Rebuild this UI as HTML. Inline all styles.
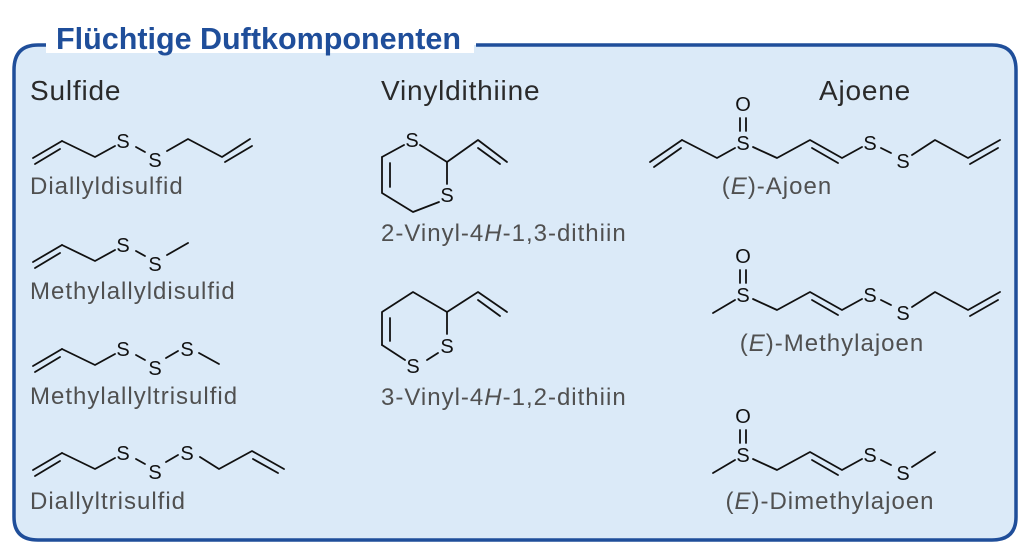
<!DOCTYPE html>
<html><head><meta charset="utf-8"><style>
html,body{margin:0;padding:0;background:#fff;}
svg{display:block;}
text{font-family:"Liberation Sans",sans-serif;}
.a{font-size:20px;fill:#111;text-anchor:middle;}
.h{font-size:28px;fill:#2a2a2a;letter-spacing:0.8px;}
.l{font-size:24px;fill:#505050;letter-spacing:1px;}
line,polyline{stroke:#111;stroke-width:1.8;fill:none;stroke-linecap:round;stroke-linejoin:round;}
</style></head><body>
<svg width="1024" height="555" viewBox="0 0 1024 555" xmlns="http://www.w3.org/2000/svg">
<path d="M46,45 L38,45 Q14,45 14,70 L14,517 Q14,540 38,540 L992,540 Q1016,540 1016,517 L1016,70 Q1016,45 992,45 L476,45 L46,45 Z" fill="#dbeaf8" stroke="none"/>
<rect x="46" y="43" width="428" height="10" fill="#fff"/>
<path d="M46,45 L38,45 Q14,45 14,70 L14,517 Q14,540 38,540 L992,540 Q1016,540 1016,517 L1016,70 Q1016,45 992,45 L476,45" fill="none" stroke="#1f4e9a" stroke-width="3.5"/>
<text x="56" y="49" style="font-size:30.5px;font-weight:bold;fill:#1f4e9a;">Flüchtige Duftkomponenten</text>

<text class="h" x="30" y="100">Sulfide</text>
<text class="h" x="381" y="100">Vinyldithiine</text>
<text class="h" x="865" y="100" text-anchor="middle">Ajoene</text>

<!-- Sulfides -->
<g id="r1">
<line x1="33" y1="158" x2="62" y2="141"/><line x1="35" y1="164" x2="60" y2="149"/>
<polyline points="62,141 95,157 115,146"/>
<text class="a" x="123" y="148">S</text>
<line x1="136" y1="147" x2="145" y2="152"/>
<text class="a" x="155" y="167">S</text>
</g>
<polyline points="167,151 188,139 222,157 250,139"/><line x1="225" y1="162" x2="252" y2="146"/>
<text class="l" x="30" y="194">Diallyldisulfid</text>

<use href="#r1" y="104"/>
<line x1="167" y1="255" x2="188" y2="243"/>
<text class="l" x="30" y="299">Methylallyldisulfid</text>

<use href="#r1" y="208"/>
<line x1="166" y1="358" x2="178" y2="351"/>
<text class="a" x="187" y="356">S</text>
<line x1="199" y1="353" x2="219" y2="364"/>
<text class="l" x="30" y="404">Methylallyltrisulfid</text>

<use href="#r1" y="312"/>
<line x1="166" y1="462" x2="178" y2="455"/>
<text class="a" x="187" y="460">S</text>
<polyline points="200,457 219,469 252,451 284,469"/><line x1="253" y1="459" x2="278" y2="473"/>
<text class="l" x="30" y="509">Diallyltrisulfid</text>

<!-- Vinyldithiine -->
<text class="a" x="412" y="147">S</text>
<line x1="382" y1="157" x2="404" y2="145"/>
<polyline points="420,145 447,162 447,184"/>
<text class="a" x="447" y="202">S</text>
<polyline points="439,202 413,212 382,193 382,157"/>
<line x1="390" y1="163" x2="390" y2="187"/>
<polyline points="447,162 478,140 507,162"/><line x1="478" y1="148" x2="500" y2="164"/>
<text class="l" x="381" y="241">2-Vinyl-4<tspan font-style="italic">H</tspan>-1,3-dithiin</text>

<polyline points="382,345 382,312 413,292 447,312 478,292 507,312"/>
<line x1="390" y1="318" x2="390" y2="341"/><line x1="478" y1="300" x2="500" y2="316"/>
<line x1="447" y1="312" x2="447" y2="334"/>
<text class="a" x="447" y="353">S</text>
<line x1="427" y1="360" x2="438" y2="353"/>
<text class="a" x="413" y="373">S</text>
<line x1="405" y1="360" x2="382" y2="345"/>
<text class="l" x="381" y="405">3-Vinyl-4<tspan font-style="italic">H</tspan>-1,2-dithiin</text>

<!-- Ajoene -->
<g id="aj">
<text class="a" x="743" y="111">O</text>
<line x1="740" y1="118" x2="740" y2="131"/><line x1="746" y1="118" x2="746" y2="131"/>
<text class="a" x="743" y="150">S</text>
<polyline points="753,147 777,158 810,140 842,158 862,147"/><line x1="812" y1="148" x2="838" y2="163"/>
<text class="a" x="870" y="150">S</text>
<line x1="881" y1="148" x2="891" y2="153"/>
<text class="a" x="903" y="168">S</text>
</g>
<polyline points="912,155 935,140 968,158 1000,140"/><line x1="970" y1="164" x2="998" y2="148"/>
<line x1="650" y1="162" x2="682" y2="140"/><line x1="654" y1="167" x2="681" y2="148"/>
<polyline points="682,140 717,158 735,148"/>
<text class="l" x="777" y="194" text-anchor="middle">(<tspan font-style="italic">E</tspan>)-Ajoen</text>

<use href="#aj" y="152"/>
<polyline points="912,307 935,292 968,310 1000,292"/><line x1="970" y1="316" x2="998" y2="300"/>
<line x1="713" y1="313" x2="735" y2="300"/>
<text class="l" x="832" y="351" text-anchor="middle">(<tspan font-style="italic">E</tspan>)-Methylajoen</text>

<use href="#aj" y="312"/>
<line x1="912" y1="467" x2="935" y2="452"/>
<line x1="713" y1="473" x2="735" y2="460"/>
<text class="l" x="830" y="509" text-anchor="middle">(<tspan font-style="italic">E</tspan>)-Dimethylajoen</text>
</svg>
</body></html>
